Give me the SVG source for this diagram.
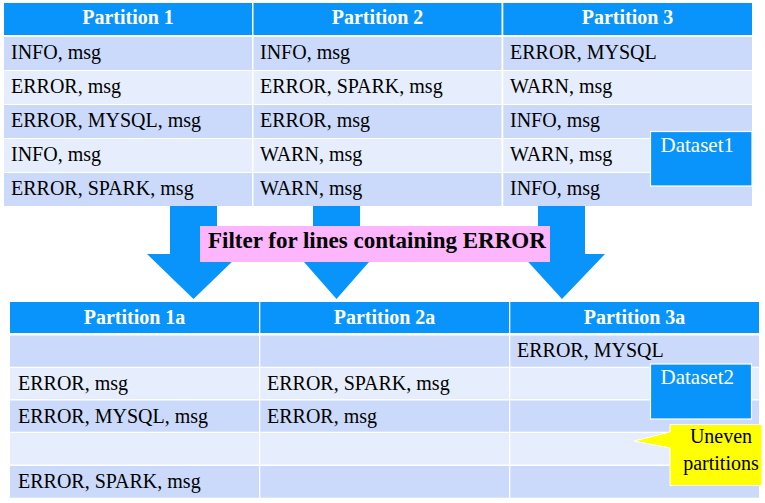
<svg xmlns="http://www.w3.org/2000/svg" width="765" height="503" viewBox="0 0 765 503" font-family="'Liberation Serif', 'DejaVu Serif', serif">
  <style>
    text { font-family: 'Liberation Serif', 'DejaVu Serif', serif; }
    .hdr { fill: #0994FB; }
    .rowA { fill: #CBDAFB; }
    .rowB { fill: #E6EEFD; }
    .htxt { font-size: 20px; font-weight: bold; fill: #FFFFFF; text-anchor: middle; }
    .ctxt { font-size: 20px; fill: #000000; }
    .tag { fill: #0994FB; stroke: #FFFFFF; stroke-width: 1.2; }
    .tagtxt { font-size: 21px; fill: #FFFFFF; }
    .arrow { fill: #0994FB; }
    .label { fill: #FDB5FC; }
    .labeltxt { font-size: 23px; font-weight: bold; fill: #000000; }
    .note { fill: #FFFF00; stroke: #FFFFFF; stroke-width: 1; }
    .notetxt { font-size: 20px; fill: #000000; text-anchor: middle; }
  </style>

  <rect x="0" y="0" width="765" height="503" fill="#FFFFFF"/>

  <!-- Source dataset: three partitions of log lines -->
  <g id="dataset1">
    <g id="dataset1-header">
      <rect class="hdr" x="4" y="3" width="248" height="32"/>
      <rect class="hdr" x="253.5" y="3" width="248" height="32"/>
      <rect class="hdr" x="503.3" y="3" width="248.7" height="32"/>
      <text class="htxt" x="128" y="24">Partition 1</text>
      <text class="htxt" x="377.5" y="24">Partition 2</text>
      <text class="htxt" x="627.5" y="24">Partition 3</text>
    </g>
    <g id="dataset1-rows">
      <rect class="rowA" x="4" y="37" width="248" height="33"/>
      <rect class="rowA" x="253.5" y="37" width="248" height="33"/>
      <rect class="rowA" x="503.3" y="37" width="248.7" height="33"/>
      <rect class="rowB" x="4" y="71" width="248" height="33"/>
      <rect class="rowB" x="253.5" y="71" width="248" height="33"/>
      <rect class="rowB" x="503.3" y="71" width="248.7" height="33"/>
      <rect class="rowA" x="4" y="105" width="248" height="33"/>
      <rect class="rowA" x="253.5" y="105" width="248" height="33"/>
      <rect class="rowA" x="503.3" y="105" width="248.7" height="33"/>
      <rect class="rowB" x="4" y="139" width="248" height="33"/>
      <rect class="rowB" x="253.5" y="139" width="248" height="33"/>
      <rect class="rowB" x="503.3" y="139" width="248.7" height="33"/>
      <rect class="rowA" x="4" y="173" width="248" height="33"/>
      <rect class="rowA" x="253.5" y="173" width="248" height="33"/>
      <rect class="rowA" x="503.3" y="173" width="248.7" height="33"/>

      <text class="ctxt" x="11" y="59">INFO, msg</text>
      <text class="ctxt" x="11" y="93">ERROR, msg</text>
      <text class="ctxt" x="11" y="127">ERROR, MYSQL, msg</text>
      <text class="ctxt" x="11" y="161">INFO, msg</text>
      <text class="ctxt" x="11" y="195">ERROR, SPARK, msg</text>

      <text class="ctxt" x="260" y="59">INFO, msg</text>
      <text class="ctxt" x="260" y="93">ERROR, SPARK, msg</text>
      <text class="ctxt" x="260" y="127">ERROR, msg</text>
      <text class="ctxt" x="260" y="161">WARN, msg</text>
      <text class="ctxt" x="260" y="195">WARN, msg</text>

      <text class="ctxt" x="510" y="59">ERROR, MYSQL</text>
      <text class="ctxt" x="510" y="93">WARN, msg</text>
      <text class="ctxt" x="510" y="127">INFO, msg</text>
      <text class="ctxt" x="510" y="161">WARN, msg</text>
      <text class="ctxt" x="510" y="195">INFO, msg</text>
    </g>
    <g id="dataset1-tag">
      <rect class="tag" x="650.5" y="131.5" width="101.5" height="54.5"/>
      <text class="tagtxt" x="660.5" y="151.5">Dataset1</text>
    </g>
  </g>

  <!-- Filter step: block arrows from each partition to its filtered partition -->
  <g id="connectors">
    <path class="arrow" d="M170,206 H217 V254 H240 L193.5,299 L147,254 H170 Z"/>
    <path class="arrow" d="M313,206 H360 V254 H376 L336.5,299 L297,254 H313 Z"/>
    <path class="arrow" d="M538,206 H585 V254 H605 L562,299 L521,254 H538 Z"/>
  </g>

  <g id="filter-label">
    <rect class="label" x="200" y="226" width="350" height="36"/>
    <text class="labeltxt" x="208" y="248">Filter for lines containing ERROR</text>
  </g>

  <!-- Filtered dataset: same partitions, only ERROR lines kept -->
  <g id="dataset2">
    <g id="dataset2-header">
      <rect class="hdr" x="10" y="302" width="249" height="31"/>
      <rect class="hdr" x="260.3" y="302" width="248.7" height="31"/>
      <rect class="hdr" x="510.3" y="302" width="248.7" height="31"/>
      <text class="htxt" x="134.5" y="324">Partition 1a</text>
      <text class="htxt" x="384.5" y="324">Partition 2a</text>
      <text class="htxt" x="634.5" y="324">Partition 3a</text>
    </g>
    <g id="dataset2-rows">
      <rect class="rowA" x="10" y="335.5" width="249" height="31.2"/>
      <rect class="rowA" x="260.3" y="335.5" width="248.7" height="31.2"/>
      <rect class="rowA" x="510.3" y="335.5" width="248.7" height="31.2"/>
      <rect class="rowB" x="10" y="368" width="249" height="31.2"/>
      <rect class="rowB" x="260.3" y="368" width="248.7" height="31.2"/>
      <rect class="rowB" x="510.3" y="368" width="248.7" height="31.2"/>
      <rect class="rowA" x="10" y="400.5" width="249" height="31.2"/>
      <rect class="rowA" x="260.3" y="400.5" width="248.7" height="31.2"/>
      <rect class="rowA" x="510.3" y="400.5" width="248.7" height="31.2"/>
      <rect class="rowB" x="10" y="433" width="249" height="31.5"/>
      <rect class="rowB" x="260.3" y="433" width="248.7" height="31.5"/>
      <rect class="rowB" x="510.3" y="433" width="248.7" height="31.5"/>
      <rect class="rowA" x="10" y="466" width="249" height="31.7"/>
      <rect class="rowA" x="260.3" y="466" width="248.7" height="31.7"/>
      <rect class="rowA" x="510.3" y="466" width="248.7" height="31.7"/>

      <text class="ctxt" x="18" y="390">ERROR, msg</text>
      <text class="ctxt" x="18" y="422.5">ERROR, MYSQL, msg</text>
      <text class="ctxt" x="18" y="488">ERROR, SPARK, msg</text>

      <text class="ctxt" x="267" y="390">ERROR, SPARK, msg</text>
      <text class="ctxt" x="267" y="422.5">ERROR, msg</text>

      <text class="ctxt" x="517" y="357">ERROR, MYSQL</text>
    </g>
    <g id="dataset2-tag">
      <rect class="tag" x="650.5" y="364" width="101" height="55"/>
      <text class="tagtxt" x="660.5" y="384">Dataset2</text>
    </g>
  </g>

  <!-- Callout noting the uneven partition sizes -->
  <g id="uneven-note">
    <path class="note" d="M670,424.5 H762 V485.5 H670 V448 L634,441 L670,432 Z"/>
    <text class="notetxt" x="721" y="442.5">Uneven</text>
    <text class="notetxt" x="721" y="470">partitions</text>
  </g>
</svg>
